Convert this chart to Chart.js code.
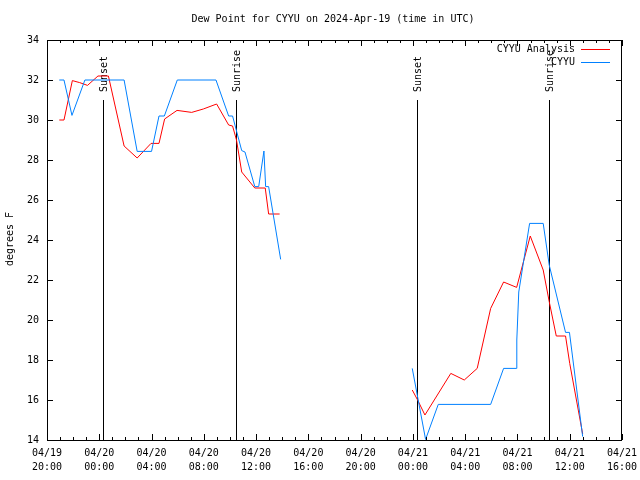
<!DOCTYPE html>
<html>
<head>
<meta charset="utf-8">
<script src="https://cdn.jsdelivr.net/npm/chart.js@4/dist/chart.umd.min.js"></script>
<style>
  body { margin: 0; background: #fff; }
  canvas { display: block; }
</style>
</head>
<body>
<canvas id="myChart" width="640" height="480"></canvas>
<script>
// hours after 04/19 20:00 UTC
var analysisHours = [0.94, 1.3, 1.94, 2.5, 3.1, 3.9, 4.7, 5.9, 6.9, 7.96, 8.57, 9.0, 9.95, 11.07, 11.96, 12.98, 13.9, 14.2, 14.5, 14.9, 15.9, 16.7, 16.96, 17.8,
                     23,
                     27.95, 28.36, 28.92, 30.9, 31.93, 32.92, 33.95, 34.94, 35.94, 36.98, 37.97, 38.43, 38.97, 39.68, 40.0, 40.99]
var analysisValues = [30.0, 30.0, 31.97, 31.87, 31.73, 32.2, 32.2, 28.7, 28.1, 28.83, 28.83, 30.05, 30.48, 30.38, 30.55, 30.8, 29.75, 29.7, 29.0, 27.4, 26.6, 26.6, 25.3, 25.3,
                      null,
                      16.5, 16.0, 15.25, 17.33, 17.0, 17.58, 20.58, 21.9, 21.63, 24.2, 22.5, 20.92, 19.2, 19.2, 17.83, 14.3]

var obsHours = [0.94, 1.3, 1.91, 2.9, 5.9, 6.9, 8.0, 8.57, 8.98, 9.97, 12.93, 13.9, 14.2, 14.9, 15.15, 15.9, 16.2, 16.6, 16.73, 16.96, 17.88,
                23,
                27.95, 28.97, 29.94, 33.95, 34.94, 35.9, 35.95, 36.1, 36.93, 37.97, 38.43, 39.68, 39.98, 40.99]
var obsValues = [32, 32, 30.23, 32, 32, 28.43, 28.43, 30.2, 30.2, 32, 32, 30.2, 30.2, 28.47, 28.4, 26.67, 26.67, 28.45, 26.67, 26.67, 23.03,
                 null,
                 17.58, 14.03, 15.78, 15.78, 17.58, 17.58, 19.0, 21.4, 24.83, 24.83, 22.75, 19.38, 19.38, 14.17]

var xTickLabels = [['04/19', '20:00'], ['04/20', '00:00'], ['04/20', '04:00'], ['04/20', '08:00'], ['04/20', '12:00'], ['04/20', '16:00'],
                   ['04/20', '20:00'], ['04/21', '00:00'], ['04/21', '04:00'], ['04/21', '08:00'], ['04/21', '12:00'], ['04/21', '16:00']]
var yTicks = [14, 16, 18, 20, 22, 24, 26, 28, 30, 32, 34]

var eventNames = ['Sunset', 'Sunrise', 'Sunset', 'Sunrise']
var eventHours = [4.28, 14.5, 28.3, 38.4]

var FONT = "'DejaVu Sans Mono', monospace"

function pairs(xs, ys) {
    var out = []
    for (var i = 0; i < xs.length; i++) out.push({ x: xs[i], y: ys[i] })
    return out
}

var decor = {
    id: 'decor',
    beforeDatasetsDraw: function (chart) {
        var ctx = chart.ctx, a = chart.chartArea, xs = chart.scales.x
        ctx.save()
        ctx.strokeStyle = '#000'
        ctx.lineWidth = 1
        ctx.fillStyle = '#000'
        ctx.font = '10px ' + FONT
        ctx.textBaseline = 'middle'
        ctx.textAlign = 'left'
        for (var i = 0; i < eventHours.length; i++) {
            var px = Math.round(xs.getPixelForValue(eventHours[i])) + 0.5
            ctx.beginPath()
            ctx.moveTo(px, 100)
            ctx.lineTo(px, a.bottom)
            ctx.stroke()
            ctx.save()
            ctx.translate(px + 1, 92)
            ctx.rotate(-Math.PI / 2)
            ctx.fillText(eventNames[i], 0, 0)
            ctx.restore()
        }
        ctx.restore()
    },
    afterDraw: function (chart) {
        var ctx = chart.ctx, a = chart.chartArea, xs = chart.scales.x, ys = chart.scales.y
        ctx.save()
        ctx.strokeStyle = '#000'
        ctx.lineWidth = 1
        ctx.strokeRect(a.left + 0.5, a.top + 0.5, a.right - a.left - 1, a.bottom - a.top)
        ctx.beginPath()
        for (var h = 0; h <= 44; h++) {
            var len = h % 4 === 0 ? 6 : 3
            var px = Math.round(xs.getPixelForValue(h)) + 0.5
            ctx.moveTo(px, a.bottom); ctx.lineTo(px, a.bottom - len)
            ctx.moveTo(px, a.top); ctx.lineTo(px, a.top + len)
        }
        yTicks.forEach(function (v) {
            var py = Math.round(ys.getPixelForValue(v)) + 0.5
            ctx.moveTo(a.left, py); ctx.lineTo(a.left + 6, py)
            ctx.moveTo(a.right, py); ctx.lineTo(a.right - 6, py)
        })
        ctx.stroke()

        // legend
        ctx.font = '10px ' + FONT
        ctx.fillStyle = '#000'
        ctx.textAlign = 'right'
        ctx.textBaseline = 'middle'
        var items = [['CYYU Analysis', '#ff0000'], ['CYYU', 'rgb(0,128,255)']]
        items.forEach(function (it, k) {
            var y = 49 + k * 13
            ctx.fillText(it[0], 575, y)
            ctx.strokeStyle = it[1]
            ctx.beginPath()
            ctx.moveTo(581, y + 0.5); ctx.lineTo(610, y + 0.5)
            ctx.stroke()
        })

        // title
        ctx.textAlign = 'center'
        ctx.fillText('Dew Point for CYYU on 2024-Apr-19 (time in UTC)', 333, 19)

        // y label
        ctx.save()
        ctx.translate(10, 239)
        ctx.rotate(-Math.PI / 2)
        ctx.fillText('degrees F', 0, 0)
        ctx.restore()
        ctx.restore()
    }
}

var ctx = document.getElementById('myChart').getContext('2d')
var chart = new Chart(ctx, {
    type: 'line',
    data: {
        datasets: [{
            label: 'CYYU',
            data: pairs(obsHours, obsValues),
            borderColor: 'rgb(0,128,255)',
            borderWidth: 1,
            pointRadius: 0,
            spanGaps: false,
            tension: 0
        },
        {
            label: 'CYYU Analysis',
            data: pairs(analysisHours, analysisValues),
            borderColor: '#ff0000',
            borderWidth: 1,
            pointRadius: 0,
            spanGaps: false,
            tension: 0
        }]
    },
    options: {
        responsive: false,
        animation: false,
        layout: { padding: { top: 40, right: 18, left: 0, bottom: 0 } },
        plugins: {
            legend: { display: false },
            title: { display: false },
            tooltip: { enabled: false }
        },
        scales: {
            x: {
                type: 'linear',
                min: 0,
                max: 44,
                grid: { display: false, drawTicks: false },
                border: { display: false },
                ticks: {
                    stepSize: 4,
                    autoSkip: false,
                    maxRotation: 0,
                    padding: 6,
                    color: '#000',
                    font: { family: FONT, size: 10, lineHeight: 1.4 },
                    callback: function (v) { return xTickLabels[Math.round(v / 4)] }
                },
                afterFit: function (s) { s.height = 40; s.paddingLeft = 0; s.paddingRight = 0 }
            },
            y: {
                min: 14,
                max: 34,
                grid: { display: false, drawTicks: false },
                border: { display: false },
                ticks: {
                    stepSize: 2,
                    padding: 8,
                    color: '#000',
                    font: { family: FONT, size: 10 }
                },
                afterFit: function (s) { s.width = 47 }
            }
        }
    },
    plugins: [decor]
})
</script>
</body>
</html>
